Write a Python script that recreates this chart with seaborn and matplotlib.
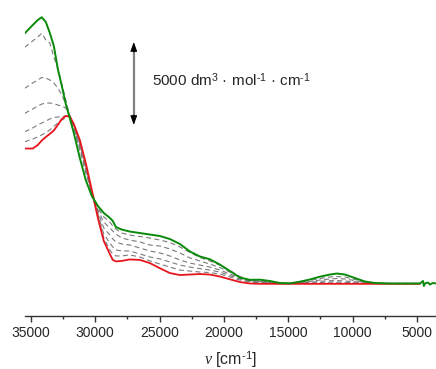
import numpy as np
import pandas as pd
import matplotlib
matplotlib.use("Agg")
import matplotlib.pyplot as plt
from matplotlib.ticker import MultipleLocator
import seaborn as sns

# ---------------- data (wavenumber in cm^-1, molar absorptivity in dm3 mol-1 cm-1)
wavenumber = [35470, 34850, 34460, 34150, 33830, 33520, 33210, 32900, 32590, 32280,
              31970, 31660, 31190, 30730,
              30260, 29790, 29330, 28860, 28630, 28390, 27930, 27310, 26530, 25750,
              24970, 24200, 23420, 22640, 21870, 21090, 20310, 19530, 18760, 17980,
              17200, 16420, 15650, 14870, 14090, 13320, 12540, 11760, 11220, 10600,
              9820, 9040, 8260, 7100, 4770]

green_final = [15070, 15570, 15870, 16040, 15750, 15090, 14310, 12920, 11900, 10810,
               9970, 9070, 7560, 6230,
               5270, 4670, 4250, 3950, 3770, 3400, 3250, 3130, 3040, 2950,
               2860, 2680, 2380, 1930, 1630, 1460, 1140, 750, 360, 220,
               230, 150, 30, 10, 110, 240, 410, 540, 600, 540,
               330, 120, 30, 0, 0]

green_tail_wn = [4530, 4460, 4380, 4150, 3990, 3760, 3520]
green_tail = [150, -150, 0, 60, -60, 30, 0]

red_initial = [8130, 8130, 8340, 8610, 8830, 9010, 9220, 9550, 9910, 10090,
               10060, 9610, 8640, 7260,
               5630, 3950, 2560, 1780, 1420, 1330, 1360, 1450, 1420, 1230,
               920, 630, 510, 540, 570, 540, 420, 250, 90, 0,
               -20, -20, -20, -20, -20, -20, -20, -20, -20, -20,
               -20, -20, -20, -20, -20]

dashed_1 = [14230, 14610, 14850, 15070, 14670, 14490, 13640, 12980, 12020, 11050,
            10090, 9370, 8040, 6660,
            5510, 4550, 4010, 3700, 3460, 3280, 3040, 2920, 2830, 2740,
            2620, 2470, 2200, 1870, 1570, 1360, 1110, 780, 420, 210,
            150, 90, 10, 10, 70, 180, 300, 390, 420, 390,
            240, 90, 0, 0, 0]

dashed_2 = [11760, 12080, 12260, 12410, 12380, 12260, 12080, 11780, 11360, 10810,
            10090, 9430, 8220, 6840,
            5510, 4430, 3700, 3340, 3160, 2980, 2740, 2620, 2500, 2320,
            2260, 2080, 1840, 1540, 1360, 1170, 960, 690, 390, 180,
            120, 60, 10, 0, 40, 120, 210, 270, 300, 270,
            180, 60, 0, 0, 0]

dashed_3 = [10250, 10510, 10690, 10810, 10870, 10870, 10840, 10750, 10690, 10570,
            10090, 9490, 8280, 6960,
            5450, 4310, 3340, 2920, 2680, 2500, 2380, 2320, 2140, 1960,
            1840, 1660, 1420, 1230, 1110, 990, 810, 570, 330, 150,
            90, 40, 0, 0, 20, 70, 130, 170, 180, 150,
            100, 30, 0, 0, 0]

dashed_4 = [9140, 9370, 9550, 9670, 9790, 9910, 10000, 10030, 10060, 10090,
            10090, 9550, 8400, 7080,
            5450, 4190, 2980, 2440, 2200, 2020, 1960, 1960, 1780, 1600,
            1480, 1300, 1110, 990, 900, 810, 690, 480, 270, 120,
            60, 20, 0, 0, 0, 30, 60, 90, 90, 70,
            50, 10, 0, 0, 0]

dashed_5 = [8540, 8700, 8830, 8950, 9100, 9250, 9460, 9670, 9850, 9970,
            10090, 9610, 8520, 7140,
            5450, 4070, 2740, 2020, 1780, 1660, 1660, 1720, 1600, 1360,
            1170, 990, 810, 750, 690, 660, 570, 390, 210, 90,
            30, 0, 0, 0, 0, 0, 10, 30, 30, 20,
            10, 0, 0, 0, 0]

tick_values = [35000, 30000, 25000, 20000, 15000, 10000, 5000]
scale_bar = 5000
scale_label = "5000 dm$^3$ · mol$^{\u2010 1}$ · cm$^{\u2010 1}$"
x_label = r"$\mathit{\nu}$ [cm$^{" + "\u2010" + r"1}$]"

# ---------------- style
sns.set_style("white")
plt.rcParams["font.family"] = ["Liberation Sans", "DejaVu Sans"]
plt.rcParams["mathtext.fontset"] = "custom"
plt.rcParams["mathtext.rm"] = "Liberation Sans"
plt.rcParams["mathtext.it"] = "Liberation Serif:italic"

fig = plt.figure(figsize=(4.36, 3.69), dpi=100)
ax = fig.add_axes([25 / 436, 53 / 369, 411 / 436, 316 / 369])

dashed = [dashed_1, dashed_2, dashed_3, dashed_4, dashed_5]
for d in dashed:
    df = pd.DataFrame({"wn": wavenumber, "eps": d})
    sns.lineplot(data=df, x="wn", y="eps", ax=ax, color="#7a7a7a", lw=0.8,
                 linestyle=(0, (4.5, 3)), estimator=None, sort=False)

df_r = pd.DataFrame({"wn": wavenumber, "eps": red_initial})
sns.lineplot(data=df_r, x="wn", y="eps", ax=ax, color="#e8141c", lw=1.3,
             estimator=None, sort=False)

df_g = pd.DataFrame({"wn": wavenumber + green_tail_wn, "eps": green_final + green_tail})
sns.lineplot(data=df_g, x="wn", y="eps", ax=ax, color="#0a8a0a", lw=1.4,
             estimator=None, sort=False)

ax.set_xlim(35450, 3520)
ax.set_ylim(-1958, 17078)

# scale arrow
ax_x = 27000
y_top, y_bot = 14548, 14548 - scale_bar
ax.plot([ax_x, ax_x], [y_bot + 400, y_top - 400], color="#808080", lw=1.6,
        solid_capstyle="butt")
for tip, base in [(y_top, y_top - 600), (y_bot, y_bot + 600)]:
    ax.annotate("", xy=(ax_x, tip), xytext=(ax_x, base),
                arrowprops=dict(arrowstyle="-|>,head_length=0.55,head_width=0.2",
                                color="black", lw=0.8, shrinkA=0, shrinkB=0))
ax.text(25600, 12260, scale_label, fontsize=11, va="center", ha="left")

# axes
for s in ["left", "top", "right"]:
    ax.spines[s].set_visible(False)
ax.spines["bottom"].set_color("#333333")
ax.spines["bottom"].set_linewidth(1.0)
ax.set_yticks([])
ax.set_xticks(tick_values)
ax.set_xticklabels([str(t) for t in tick_values])
ax.xaxis.set_minor_locator(MultipleLocator(2500))
ax.tick_params(axis="x", which="major", direction="out", length=4.5, width=1.0,
               color="#333333", labelsize=10, pad=3, bottom=True)
ax.tick_params(axis="x", which="minor", direction="out", length=2.5, width=1.0,
               color="#333333", bottom=True)
ax.set_ylabel("")
ax.set_xlabel(x_label, fontsize=11.5, labelpad=6)

fig.savefig("out.png", dpi=100)
